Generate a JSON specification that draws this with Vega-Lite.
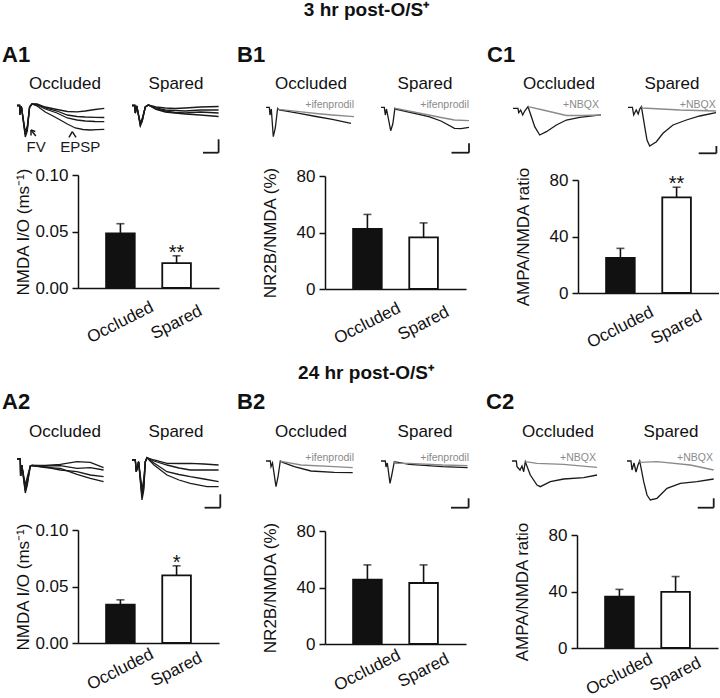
{
"$schema":"https://vega.github.io/schema/vega-lite/v6.json",
"padding":{"left":2,"top":1,"right":0,"bottom":0},
"config":{
 "font":"Liberation Sans",
 "view":{"stroke":null},
 "axis":{"domainColor":"#111","domainWidth":1.5,"tickColor":"#111","tickWidth":1.5,"labelColor":"#111","titleColor":"#111","labelFontSize":17,"titleFontSize":17,"titleFontWeight":"normal","grid":false,"labelFont":"Liberation Sans","titleFont":"Liberation Sans"},
 "axisY":{"tickSize":6,"labelPadding":4,"minExtent":41,"maxExtent":41,"titlePadding":5},
 "axisX":{"ticks":false,"labelAngle":-27,"labelAlign":"center","labelBaseline":"middle","labelPadding":34,"labelOverlap":false},
 "title":{"font":"Liberation Sans","color":"#111","baseline":"top"}
},
"datasets":{
"bars":[
{"panel":"A1","group":"Occluded","value":0.0484,"upper":0.0569,"sig":""},
{"panel":"A1","group":"Spared","value":0.0221,"upper":0.0285,"sig":"**"},
{"panel":"B1","group":"Occluded","value":42.5,"upper":52.8,"sig":""},
{"panel":"B1","group":"Spared","value":36.5,"upper":46.8,"sig":""},
{"panel":"C1","group":"Occluded","value":24.9,"upper":31.6,"sig":""},
{"panel":"C1","group":"Spared","value":67.7,"upper":74.9,"sig":"**"},
{"panel":"A2","group":"Occluded","value":0.034,"upper":0.0382,"sig":""},
{"panel":"A2","group":"Spared","value":0.0598,"upper":0.0683,"sig":"*"},
{"panel":"B2","group":"Occluded","value":45.6,"upper":56.0,"sig":""},
{"panel":"B2","group":"Spared","value":43.2,"upper":56.0,"sig":""},
{"panel":"C2","group":"Occluded","value":36.4,"upper":41.5,"sig":""},
{"panel":"C2","group":"Spared","value":39.7,"upper":50.6,"sig":""}
],
"segs":[
{"p":"A1s","t":71,"v":-53.7,"t2":86.6,"v2":-53.7},{"p":"A1s","t":86.6,"v":-40.3,"t2":86.6,"v2":-53.7},
{"p":"B1s","t":70.5,"v":-53.7,"t2":88,"v2":-53.7},{"p":"B1s","t":88,"v":-44.3,"t2":88,"v2":-53.7},
{"p":"C1s","t":70.7,"v":-54.3,"t2":88.4,"v2":-54.3},{"p":"C1s","t":88.4,"v":-47,"t2":88.4,"v2":-54.3},
{"p":"A2s","t":72.6,"v":-54.7,"t2":88.3,"v2":-54.7},{"p":"A2s","t":88.3,"v":-41.3,"t2":88.3,"v2":-54.7},
{"p":"B2s","t":70,"v":-54.7,"t2":87.6,"v2":-54.7},{"p":"B2s","t":87.6,"v":-45.3,"t2":87.6,"v2":-54.7},
{"p":"C2s","t":70.7,"v":-54.7,"t2":86.7,"v2":-54.7},{"p":"C2s","t":86.7,"v":-45.3,"t2":86.7,"v2":-54.7},
{"p":"A1o","t":14,"v":-31,"t2":14,"v2":-36.5},{"p":"A1o","t":14,"v":-31,"t2":18.3,"v2":-32.5},{"p":"A1o","t":14,"v":-31,"t2":18.8,"v2":-37},
{"p":"A1o","t":55.3,"v":-32.7,"t2":52,"v2":-38.3},{"p":"A1o","t":55.3,"v":-32.7,"t2":59,"v2":-38.3}
],
"notes":[
{"p":"A1o","k":"label","t":19.1,"v":-52.7,"text":"FV"},
{"p":"A1o","k":"label","t":63.3,"v":-52.7,"text":"EPSP"},
{"p":"B1o","k":"drug","t":88,"v":-9.3,"text":"+ifenprodil"},
{"p":"B1s","k":"drug","t":88,"v":-9,"text":"+ifenprodil"},
{"p":"C1o","k":"drug","t":86,"v":-9.3,"text":"+NBQX"},
{"p":"C1s","k":"drug","t":87.7,"v":-9.3,"text":"+NBQX"},
{"p":"B2o","k":"drug","t":88,"v":-8,"text":"+ifenprodil"},
{"p":"B2s","k":"drug","t":88,"v":-8,"text":"+ifenprodil"},
{"p":"C2o","k":"drug","t":84,"v":-8,"text":"+NBQX"},
{"p":"C2s","k":"drug","t":86,"v":-8,"text":"+NBQX"}
],
"traces":[
{"p":"A1o","id":"a","k":"c","t":0,"v":-6.5},{"p":"A1o","id":"a","k":"c","t":2.6,"v":-6.5},{"p":"A1o","id":"a","k":"c","t":2.8,"v":-16},{"p":"A1o","id":"a","k":"c","t":4.3,"v":-7},{"p":"A1o","id":"a","k":"c","t":8.3,"v":-33},{"p":"A1o","id":"a","k":"c","t":10.3,"v":-27},{"p":"A1o","id":"a","k":"c","t":12.6,"v":-8},{"p":"A1o","id":"a","k":"c","t":15,"v":-5},{"p":"A1o","id":"a","k":"c","t":20,"v":-5},{"p":"A1o","id":"a","k":"c","t":28.3,"v":-8},{"p":"A1o","id":"a","k":"c","t":40,"v":-10.5},{"p":"A1o","id":"a","k":"c","t":50.3,"v":-12.5},{"p":"A1o","id":"a","k":"c","t":60,"v":-12.8},{"p":"A1o","id":"a","k":"c","t":68.3,"v":-12},{"p":"A1o","id":"a","k":"c","t":78,"v":-10.5},{"p":"A1o","id":"a","k":"c","t":87.3,"v":-9.3},
{"p":"A1o","id":"b","k":"c","t":0,"v":-6.5},{"p":"A1o","id":"b","k":"c","t":2.6,"v":-6.5},{"p":"A1o","id":"b","k":"c","t":2.8,"v":-15},{"p":"A1o","id":"b","k":"c","t":4.3,"v":-7},{"p":"A1o","id":"b","k":"c","t":8.3,"v":-35},{"p":"A1o","id":"b","k":"c","t":10.3,"v":-29},{"p":"A1o","id":"b","k":"c","t":12.6,"v":-8},{"p":"A1o","id":"b","k":"c","t":15,"v":-5},{"p":"A1o","id":"b","k":"c","t":20,"v":-5.5},{"p":"A1o","id":"b","k":"c","t":28.3,"v":-9},{"p":"A1o","id":"b","k":"c","t":40,"v":-12},{"p":"A1o","id":"b","k":"c","t":50.3,"v":-16},{"p":"A1o","id":"b","k":"c","t":60,"v":-17.5},{"p":"A1o","id":"b","k":"c","t":68.3,"v":-18},{"p":"A1o","id":"b","k":"c","t":78,"v":-18.3},{"p":"A1o","id":"b","k":"c","t":87.3,"v":-18.5},
{"p":"A1o","id":"c","k":"c","t":0,"v":-6.5},{"p":"A1o","id":"c","k":"c","t":2.6,"v":-6.5},{"p":"A1o","id":"c","k":"c","t":2.8,"v":-16},{"p":"A1o","id":"c","k":"c","t":4.3,"v":-7},{"p":"A1o","id":"c","k":"c","t":8.3,"v":-36},{"p":"A1o","id":"c","k":"c","t":10.3,"v":-30},{"p":"A1o","id":"c","k":"c","t":12.6,"v":-8},{"p":"A1o","id":"c","k":"c","t":15,"v":-5},{"p":"A1o","id":"c","k":"c","t":20,"v":-6},{"p":"A1o","id":"c","k":"c","t":28.3,"v":-10},{"p":"A1o","id":"c","k":"c","t":40,"v":-14},{"p":"A1o","id":"c","k":"c","t":50.3,"v":-19},{"p":"A1o","id":"c","k":"c","t":60,"v":-21},{"p":"A1o","id":"c","k":"c","t":68.3,"v":-22},{"p":"A1o","id":"c","k":"c","t":78,"v":-22.5},{"p":"A1o","id":"c","k":"c","t":87.3,"v":-22.7},
{"p":"A1o","id":"d","k":"c","t":0,"v":-6.5},{"p":"A1o","id":"d","k":"c","t":2.6,"v":-6.5},{"p":"A1o","id":"d","k":"c","t":2.8,"v":-15},{"p":"A1o","id":"d","k":"c","t":4.3,"v":-7},{"p":"A1o","id":"d","k":"c","t":8.3,"v":-38},{"p":"A1o","id":"d","k":"c","t":10.3,"v":-32},{"p":"A1o","id":"d","k":"c","t":12.6,"v":-8},{"p":"A1o","id":"d","k":"c","t":15,"v":-5},{"p":"A1o","id":"d","k":"c","t":20,"v":-7},{"p":"A1o","id":"d","k":"c","t":28.3,"v":-13},{"p":"A1o","id":"d","k":"c","t":36,"v":-17},{"p":"A1o","id":"d","k":"c","t":43.3,"v":-21},{"p":"A1o","id":"d","k":"c","t":50.3,"v":-25},{"p":"A1o","id":"d","k":"c","t":58.3,"v":-29},{"p":"A1o","id":"d","k":"c","t":66,"v":-30.5},{"p":"A1o","id":"d","k":"c","t":73.3,"v":-31},{"p":"A1o","id":"d","k":"c","t":80,"v":-30.6},{"p":"A1o","id":"d","k":"c","t":87.3,"v":-30.3},
{"p":"A1s","id":"a","k":"c","t":0,"v":-6.5},{"p":"A1s","id":"a","k":"c","t":2.8,"v":-6.5},{"p":"A1s","id":"a","k":"c","t":3.3,"v":-14},{"p":"A1s","id":"a","k":"c","t":4.8,"v":-7},{"p":"A1s","id":"a","k":"c","t":8.3,"v":-24},{"p":"A1s","id":"a","k":"c","t":10.3,"v":-19},{"p":"A1s","id":"a","k":"c","t":13.3,"v":-8},{"p":"A1s","id":"a","k":"c","t":16.3,"v":-6},{"p":"A1s","id":"a","k":"c","t":24,"v":-8},{"p":"A1s","id":"a","k":"c","t":33.3,"v":-9},{"p":"A1s","id":"a","k":"c","t":43,"v":-9.5},{"p":"A1s","id":"a","k":"c","t":53.3,"v":-9},{"p":"A1s","id":"a","k":"c","t":68.3,"v":-8},{"p":"A1s","id":"a","k":"c","t":86.6,"v":-7.5},
{"p":"A1s","id":"b","k":"c","t":0,"v":-6.5},{"p":"A1s","id":"b","k":"c","t":2.8,"v":-6.5},{"p":"A1s","id":"b","k":"c","t":3.3,"v":-14},{"p":"A1s","id":"b","k":"c","t":4.8,"v":-7},{"p":"A1s","id":"b","k":"c","t":8.3,"v":-25.5},{"p":"A1s","id":"b","k":"c","t":10.3,"v":-20.5},{"p":"A1s","id":"b","k":"c","t":13.3,"v":-8},{"p":"A1s","id":"b","k":"c","t":16.3,"v":-6},{"p":"A1s","id":"b","k":"c","t":24,"v":-9},{"p":"A1s","id":"b","k":"c","t":33.3,"v":-11},{"p":"A1s","id":"b","k":"c","t":43,"v":-11.5},{"p":"A1s","id":"b","k":"c","t":53.3,"v":-12},{"p":"A1s","id":"b","k":"c","t":68.3,"v":-11},{"p":"A1s","id":"b","k":"c","t":86.6,"v":-11},
{"p":"A1s","id":"c","k":"c","t":0,"v":-6.5},{"p":"A1s","id":"c","k":"c","t":2.8,"v":-6.5},{"p":"A1s","id":"c","k":"c","t":3.3,"v":-14},{"p":"A1s","id":"c","k":"c","t":4.8,"v":-7},{"p":"A1s","id":"c","k":"c","t":8.3,"v":-26.5},{"p":"A1s","id":"c","k":"c","t":10.3,"v":-21.5},{"p":"A1s","id":"c","k":"c","t":13.3,"v":-8},{"p":"A1s","id":"c","k":"c","t":16.3,"v":-6},{"p":"A1s","id":"c","k":"c","t":24,"v":-10},{"p":"A1s","id":"c","k":"c","t":33.3,"v":-12},{"p":"A1s","id":"c","k":"c","t":43,"v":-13.5},{"p":"A1s","id":"c","k":"c","t":53.3,"v":-14},{"p":"A1s","id":"c","k":"c","t":68.3,"v":-13},{"p":"A1s","id":"c","k":"c","t":86.6,"v":-14},
{"p":"A1s","id":"d","k":"c","t":0,"v":-6.5},{"p":"A1s","id":"d","k":"c","t":2.8,"v":-6.5},{"p":"A1s","id":"d","k":"c","t":3.3,"v":-14},{"p":"A1s","id":"d","k":"c","t":4.8,"v":-7},{"p":"A1s","id":"d","k":"c","t":8.3,"v":-27},{"p":"A1s","id":"d","k":"c","t":10.3,"v":-22},{"p":"A1s","id":"d","k":"c","t":13.3,"v":-8},{"p":"A1s","id":"d","k":"c","t":16.3,"v":-6},{"p":"A1s","id":"d","k":"c","t":24,"v":-10.5},{"p":"A1s","id":"d","k":"c","t":33.3,"v":-13},{"p":"A1s","id":"d","k":"c","t":43,"v":-14},{"p":"A1s","id":"d","k":"c","t":53.3,"v":-15},{"p":"A1s","id":"d","k":"c","t":68.3,"v":-16},{"p":"A1s","id":"d","k":"c","t":86.6,"v":-17.5},
{"p":"B1o","id":"a","k":"c","t":0,"v":-8.3},{"p":"B1o","id":"a","k":"c","t":3.3,"v":-8.3},{"p":"B1o","id":"a","k":"c","t":4,"v":-16},{"p":"B1o","id":"a","k":"c","t":5.3,"v":-10},{"p":"B1o","id":"a","k":"c","t":7.3,"v":-37.7},{"p":"B1o","id":"a","k":"c","t":9.3,"v":-29},{"p":"B1o","id":"a","k":"c","t":11.6,"v":-9.3},{"p":"B1o","id":"a","k":"c","t":13.3,"v":-11},{"p":"B1o","id":"a","k":"c","t":33.3,"v":-14.3},{"p":"B1o","id":"a","k":"c","t":50,"v":-17.5},{"p":"B1o","id":"a","k":"c","t":66.3,"v":-20.3},{"p":"B1o","id":"a","k":"c","t":85,"v":-24.3},
{"p":"B1o","id":"g","k":"d","t":11.6,"v":-9.3},{"p":"B1o","id":"g","k":"d","t":13.3,"v":-10.3},{"p":"B1o","id":"g","k":"d","t":33.3,"v":-12.7},{"p":"B1o","id":"g","k":"d","t":50,"v":-14.5},{"p":"B1o","id":"g","k":"d","t":66.3,"v":-16},{"p":"B1o","id":"g","k":"d","t":88,"v":-17.7},
{"p":"B1s","id":"a","k":"c","t":0,"v":-8.3},{"p":"B1s","id":"a","k":"c","t":3.3,"v":-8.3},{"p":"B1s","id":"a","k":"c","t":4.3,"v":-16},{"p":"B1s","id":"a","k":"c","t":5.5,"v":-10},{"p":"B1s","id":"a","k":"c","t":9.7,"v":-31.7},{"p":"B1s","id":"a","k":"c","t":11.8,"v":-25},{"p":"B1s","id":"a","k":"c","t":13.9,"v":-9.3},{"p":"B1s","id":"a","k":"c","t":15.5,"v":-10.3},{"p":"B1s","id":"a","k":"c","t":30,"v":-13.5},{"p":"B1s","id":"a","k":"c","t":47.8,"v":-17.7},{"p":"B1s","id":"a","k":"c","t":60,"v":-22},{"p":"B1s","id":"a","k":"c","t":73.5,"v":-29.3},{"p":"B1s","id":"a","k":"c","t":80,"v":-29.7},{"p":"B1s","id":"a","k":"c","t":88,"v":-28.3},
{"p":"B1s","id":"g","k":"d","t":13.9,"v":-9.3},{"p":"B1s","id":"g","k":"d","t":15.2,"v":-9.3},{"p":"B1s","id":"g","k":"d","t":30,"v":-12.5},{"p":"B1s","id":"g","k":"d","t":47.8,"v":-16},{"p":"B1s","id":"g","k":"d","t":60,"v":-18.5},{"p":"B1s","id":"g","k":"d","t":73.5,"v":-21},{"p":"B1s","id":"g","k":"d","t":88,"v":-21.7},
{"p":"C1o","id":"a","k":"c","t":0,"v":-9.3},{"p":"C1o","id":"a","k":"c","t":5,"v":-9.3},{"p":"C1o","id":"a","k":"c","t":5.7,"v":-13.7},{"p":"C1o","id":"a","k":"c","t":7.7,"v":-11},{"p":"C1o","id":"a","k":"c","t":9.7,"v":-16},{"p":"C1o","id":"a","k":"c","t":11.7,"v":-12},{"p":"C1o","id":"a","k":"c","t":15,"v":-7.7},{"p":"C1o","id":"a","k":"c","t":18.4,"v":-17.7},{"p":"C1o","id":"a","k":"c","t":21.7,"v":-27.7},{"p":"C1o","id":"a","k":"c","t":26.7,"v":-36},{"p":"C1o","id":"a","k":"c","t":33.4,"v":-32.7},{"p":"C1o","id":"a","k":"c","t":43.4,"v":-26},{"p":"C1o","id":"a","k":"c","t":53.4,"v":-21},{"p":"C1o","id":"a","k":"c","t":66.7,"v":-18.3},{"p":"C1o","id":"a","k":"c","t":88,"v":-15.8},
{"p":"C1o","id":"g","k":"d","t":15,"v":-7.7},{"p":"C1o","id":"g","k":"d","t":30,"v":-11},{"p":"C1o","id":"g","k":"d","t":53.4,"v":-16.5},{"p":"C1o","id":"g","k":"d","t":70,"v":-16.5},{"p":"C1o","id":"g","k":"d","t":88,"v":-16},
{"p":"C1s","id":"a","k":"c","t":0,"v":-8.3},{"p":"C1s","id":"a","k":"c","t":4.4,"v":-8.3},{"p":"C1s","id":"a","k":"c","t":5.7,"v":-16},{"p":"C1s","id":"a","k":"c","t":8.2,"v":-11},{"p":"C1s","id":"a","k":"c","t":10.2,"v":-15},{"p":"C1s","id":"a","k":"c","t":11.7,"v":-10},{"p":"C1s","id":"a","k":"c","t":13.4,"v":-7.7},{"p":"C1s","id":"a","k":"c","t":16.7,"v":-27.7},{"p":"C1s","id":"a","k":"c","t":19,"v":-41},{"p":"C1s","id":"a","k":"c","t":21.7,"v":-47},{"p":"C1s","id":"a","k":"c","t":28.4,"v":-42.7},{"p":"C1s","id":"a","k":"c","t":35,"v":-34.3},{"p":"C1s","id":"a","k":"c","t":45,"v":-26},{"p":"C1s","id":"a","k":"c","t":58.4,"v":-21},{"p":"C1s","id":"a","k":"c","t":71.7,"v":-17},{"p":"C1s","id":"a","k":"c","t":88,"v":-13.7},
{"p":"C1s","id":"g","k":"d","t":13.4,"v":-7.7},{"p":"C1s","id":"g","k":"d","t":14.7,"v":-9},{"p":"C1s","id":"g","k":"d","t":51.7,"v":-11},{"p":"C1s","id":"g","k":"d","t":88,"v":-12},
{"p":"A2o","id":"a","k":"c","t":0,"v":-6},{"p":"A2o","id":"a","k":"c","t":3.3,"v":-6},{"p":"A2o","id":"a","k":"c","t":3.6,"v":-23},{"p":"A2o","id":"a","k":"c","t":4.8,"v":-12},{"p":"A2o","id":"a","k":"c","t":8.3,"v":-40},{"p":"A2o","id":"a","k":"c","t":10.3,"v":-32},{"p":"A2o","id":"a","k":"c","t":13.3,"v":-13},{"p":"A2o","id":"a","k":"c","t":15,"v":-12.5},{"p":"A2o","id":"a","k":"c","t":28.3,"v":-12.5},{"p":"A2o","id":"a","k":"c","t":43.3,"v":-11.3},{"p":"A2o","id":"a","k":"c","t":60,"v":-8.7},{"p":"A2o","id":"a","k":"c","t":73.3,"v":-9.3},{"p":"A2o","id":"a","k":"c","t":86.6,"v":-14.7},
{"p":"A2o","id":"b","k":"c","t":0,"v":-6},{"p":"A2o","id":"b","k":"c","t":3.3,"v":-6},{"p":"A2o","id":"b","k":"c","t":3.6,"v":-23},{"p":"A2o","id":"b","k":"c","t":4.8,"v":-12},{"p":"A2o","id":"b","k":"c","t":8.3,"v":-38},{"p":"A2o","id":"b","k":"c","t":10.3,"v":-30},{"p":"A2o","id":"b","k":"c","t":13.3,"v":-13},{"p":"A2o","id":"b","k":"c","t":15,"v":-12.5},{"p":"A2o","id":"b","k":"c","t":28.3,"v":-13},{"p":"A2o","id":"b","k":"c","t":43.3,"v":-12.7},{"p":"A2o","id":"b","k":"c","t":60,"v":-15.3},{"p":"A2o","id":"b","k":"c","t":73.3,"v":-14.7},{"p":"A2o","id":"b","k":"c","t":86.6,"v":-17},
{"p":"A2o","id":"c","k":"c","t":0,"v":-6},{"p":"A2o","id":"c","k":"c","t":3.3,"v":-6},{"p":"A2o","id":"c","k":"c","t":3.6,"v":-23},{"p":"A2o","id":"c","k":"c","t":4.8,"v":-12},{"p":"A2o","id":"c","k":"c","t":8.3,"v":-35},{"p":"A2o","id":"c","k":"c","t":10.3,"v":-27},{"p":"A2o","id":"c","k":"c","t":13.3,"v":-13},{"p":"A2o","id":"c","k":"c","t":15,"v":-12.5},{"p":"A2o","id":"c","k":"c","t":28.3,"v":-14},{"p":"A2o","id":"c","k":"c","t":43.3,"v":-17},{"p":"A2o","id":"c","k":"c","t":60,"v":-18.7},{"p":"A2o","id":"c","k":"c","t":73.3,"v":-22},{"p":"A2o","id":"c","k":"c","t":86.6,"v":-23.7},
{"p":"A2o","id":"d","k":"c","t":0,"v":-6},{"p":"A2o","id":"d","k":"c","t":3.3,"v":-6},{"p":"A2o","id":"d","k":"c","t":3.6,"v":-23},{"p":"A2o","id":"d","k":"c","t":4.8,"v":-12},{"p":"A2o","id":"d","k":"c","t":8.3,"v":-32},{"p":"A2o","id":"d","k":"c","t":10.3,"v":-24},{"p":"A2o","id":"d","k":"c","t":13.3,"v":-13},{"p":"A2o","id":"d","k":"c","t":15,"v":-12.5},{"p":"A2o","id":"d","k":"c","t":28.3,"v":-14.5},{"p":"A2o","id":"d","k":"c","t":43.3,"v":-15.3},{"p":"A2o","id":"d","k":"c","t":60,"v":-21.3},{"p":"A2o","id":"d","k":"c","t":73.3,"v":-25.3},{"p":"A2o","id":"d","k":"c","t":86.6,"v":-28.7},
{"p":"A2s","id":"a","k":"c","t":0,"v":-7},{"p":"A2s","id":"a","k":"c","t":3.3,"v":-7},{"p":"A2s","id":"a","k":"c","t":4.3,"v":-18.7},{"p":"A2s","id":"a","k":"c","t":6.6,"v":-8.7},{"p":"A2s","id":"a","k":"c","t":10,"v":-47},{"p":"A2s","id":"a","k":"c","t":11.8,"v":-37},{"p":"A2s","id":"a","k":"c","t":13.3,"v":-8.7},{"p":"A2s","id":"a","k":"c","t":15,"v":-4.7},{"p":"A2s","id":"a","k":"c","t":22,"v":-7},{"p":"A2s","id":"a","k":"c","t":35,"v":-10.3},{"p":"A2s","id":"a","k":"c","t":47,"v":-10.5},{"p":"A2s","id":"a","k":"c","t":58.3,"v":-10.3},{"p":"A2s","id":"a","k":"c","t":72,"v":-11},{"p":"A2s","id":"a","k":"c","t":86.6,"v":-12},
{"p":"A2s","id":"b","k":"c","t":0,"v":-7},{"p":"A2s","id":"b","k":"c","t":3.3,"v":-7},{"p":"A2s","id":"b","k":"c","t":4.3,"v":-18.7},{"p":"A2s","id":"b","k":"c","t":6.6,"v":-8.7},{"p":"A2s","id":"b","k":"c","t":10,"v":-44},{"p":"A2s","id":"b","k":"c","t":11.8,"v":-34},{"p":"A2s","id":"b","k":"c","t":13.3,"v":-8.7},{"p":"A2s","id":"b","k":"c","t":15,"v":-4.7},{"p":"A2s","id":"b","k":"c","t":22,"v":-8},{"p":"A2s","id":"b","k":"c","t":35,"v":-12},{"p":"A2s","id":"b","k":"c","t":47,"v":-15},{"p":"A2s","id":"b","k":"c","t":58.3,"v":-17},{"p":"A2s","id":"b","k":"c","t":72,"v":-17},{"p":"A2s","id":"b","k":"c","t":86.6,"v":-17},
{"p":"A2s","id":"c","k":"c","t":0,"v":-7},{"p":"A2s","id":"c","k":"c","t":3.3,"v":-7},{"p":"A2s","id":"c","k":"c","t":4.3,"v":-18.7},{"p":"A2s","id":"c","k":"c","t":6.6,"v":-8.7},{"p":"A2s","id":"c","k":"c","t":10,"v":-40},{"p":"A2s","id":"c","k":"c","t":11.8,"v":-30},{"p":"A2s","id":"c","k":"c","t":13.3,"v":-8.7},{"p":"A2s","id":"c","k":"c","t":15,"v":-4.7},{"p":"A2s","id":"c","k":"c","t":22,"v":-10},{"p":"A2s","id":"c","k":"c","t":35,"v":-18.7},{"p":"A2s","id":"c","k":"c","t":47,"v":-21.5},{"p":"A2s","id":"c","k":"c","t":58.3,"v":-23.7},{"p":"A2s","id":"c","k":"c","t":72,"v":-26},{"p":"A2s","id":"c","k":"c","t":86.6,"v":-28.7},
{"p":"A2s","id":"d","k":"c","t":0,"v":-7},{"p":"A2s","id":"d","k":"c","t":3.3,"v":-7},{"p":"A2s","id":"d","k":"c","t":4.3,"v":-18.7},{"p":"A2s","id":"d","k":"c","t":6.6,"v":-8.7},{"p":"A2s","id":"d","k":"c","t":10,"v":-36},{"p":"A2s","id":"d","k":"c","t":11.8,"v":-26},{"p":"A2s","id":"d","k":"c","t":13.3,"v":-8.7},{"p":"A2s","id":"d","k":"c","t":15,"v":-4.7},{"p":"A2s","id":"d","k":"c","t":22,"v":-12},{"p":"A2s","id":"d","k":"c","t":35,"v":-22},{"p":"A2s","id":"d","k":"c","t":47,"v":-27},{"p":"A2s","id":"d","k":"c","t":58.3,"v":-30.3},{"p":"A2s","id":"d","k":"c","t":75,"v":-33.7},{"p":"A2s","id":"d","k":"c","t":86.6,"v":-33.7},
{"p":"B2o","id":"a","k":"c","t":0,"v":-8},{"p":"B2o","id":"a","k":"c","t":4.3,"v":-8},{"p":"B2o","id":"a","k":"c","t":5,"v":-13.7},{"p":"B2o","id":"a","k":"c","t":6.5,"v":-10},{"p":"B2o","id":"a","k":"c","t":10,"v":-33.7},{"p":"B2o","id":"a","k":"c","t":12,"v":-24},{"p":"B2o","id":"a","k":"c","t":14.3,"v":-8},{"p":"B2o","id":"a","k":"c","t":16.7,"v":-9.3},{"p":"B2o","id":"a","k":"c","t":28.3,"v":-13.7},{"p":"B2o","id":"a","k":"c","t":45,"v":-18},{"p":"B2o","id":"a","k":"c","t":68.3,"v":-19.3},{"p":"B2o","id":"a","k":"c","t":86.7,"v":-19.7},
{"p":"B2o","id":"g","k":"d","t":14.3,"v":-8},{"p":"B2o","id":"g","k":"d","t":16.7,"v":-8.7},{"p":"B2o","id":"g","k":"d","t":35,"v":-12},{"p":"B2o","id":"g","k":"d","t":68.3,"v":-13.7},{"p":"B2o","id":"g","k":"d","t":86.7,"v":-14.7},
{"p":"B2s","id":"a","k":"c","t":0,"v":-8},{"p":"B2s","id":"a","k":"c","t":4.3,"v":-8},{"p":"B2s","id":"a","k":"c","t":5,"v":-14},{"p":"B2s","id":"a","k":"c","t":6.3,"v":-10},{"p":"B2s","id":"a","k":"c","t":9,"v":-30.3},{"p":"B2s","id":"a","k":"c","t":10.8,"v":-22},{"p":"B2s","id":"a","k":"c","t":13.3,"v":-8.7},{"p":"B2s","id":"a","k":"c","t":28.3,"v":-11.3},{"p":"B2s","id":"a","k":"c","t":61.6,"v":-13.7},{"p":"B2s","id":"a","k":"c","t":86.6,"v":-14.7},
{"p":"B2s","id":"g","k":"d","t":13.3,"v":-8.7},{"p":"B2s","id":"g","k":"d","t":14.5,"v":-10.3},{"p":"B2s","id":"g","k":"d","t":28.3,"v":-10.3},{"p":"B2s","id":"g","k":"d","t":61.6,"v":-12},{"p":"B2s","id":"g","k":"d","t":86.6,"v":-12.7},
{"p":"C2o","id":"a","k":"c","t":0,"v":-8},{"p":"C2o","id":"a","k":"c","t":4.3,"v":-8},{"p":"C2o","id":"a","k":"c","t":5,"v":-13.7},{"p":"C2o","id":"a","k":"c","t":8,"v":-17},{"p":"C2o","id":"a","k":"c","t":10,"v":-13},{"p":"C2o","id":"a","k":"c","t":11.7,"v":-18.7},{"p":"C2o","id":"a","k":"c","t":13.3,"v":-8.7},{"p":"C2o","id":"a","k":"c","t":18.3,"v":-22},{"p":"C2o","id":"a","k":"c","t":25,"v":-32},{"p":"C2o","id":"a","k":"c","t":28.3,"v":-33.7},{"p":"C2o","id":"a","k":"c","t":38.3,"v":-28.7},{"p":"C2o","id":"a","k":"c","t":51.7,"v":-26},{"p":"C2o","id":"a","k":"c","t":71.7,"v":-24.7},{"p":"C2o","id":"a","k":"c","t":85,"v":-22},
{"p":"C2o","id":"g","k":"d","t":13.3,"v":-8.7},{"p":"C2o","id":"g","k":"d","t":25,"v":-10.3},{"p":"C2o","id":"g","k":"d","t":51.7,"v":-11.3},{"p":"C2o","id":"g","k":"d","t":85,"v":-14.3},
{"p":"C2s","id":"a","k":"c","t":0,"v":-8},{"p":"C2s","id":"a","k":"c","t":4,"v":-8},{"p":"C2s","id":"a","k":"c","t":5,"v":-17},{"p":"C2s","id":"a","k":"c","t":7,"v":-10},{"p":"C2s","id":"a","k":"c","t":9,"v":-19},{"p":"C2s","id":"a","k":"c","t":11,"v":-12},{"p":"C2s","id":"a","k":"c","t":12.7,"v":-8},{"p":"C2s","id":"a","k":"c","t":16.7,"v":-28.7},{"p":"C2s","id":"a","k":"c","t":20,"v":-42},{"p":"C2s","id":"a","k":"c","t":23.3,"v":-47},{"p":"C2s","id":"a","k":"c","t":30,"v":-45.3},{"p":"C2s","id":"a","k":"c","t":40,"v":-35.3},{"p":"C2s","id":"a","k":"c","t":53.3,"v":-30.3},{"p":"C2s","id":"a","k":"c","t":70,"v":-28.7},{"p":"C2s","id":"a","k":"c","t":86.7,"v":-26},
{"p":"C2s","id":"g","k":"d","t":12.7,"v":-8},{"p":"C2s","id":"g","k":"d","t":13.3,"v":-9.3},{"p":"C2s","id":"g","k":"d","t":30,"v":-8.7},{"p":"C2s","id":"g","k":"d","t":63.3,"v":-12},{"p":"C2s","id":"g","k":"d","t":86.7,"v":-17}
]
},
"vconcat":[
{"title":{"text":"3 hr post-O/S⁺","fontSize":19,"fontWeight":"bold","anchor":"middle","frame":"bounds","offset":24,"dx":6},
 "spacing":15,
 "hconcat":[
  {"title":{"text":"A1","fontSize":22,"fontWeight":"bold","anchor":"start","frame":"group","offset":8,"dx":-15},
   "spacing":11,
   "vconcat":[
    {"bounds":"flush","spacing":27,"hconcat":[
      {"title":{"text":"Occluded","fontSize":17,"fontWeight":"normal","offset":6,"dx":4},"width":88,"height":56,
       "encoding":{"x":{"field":"t","type":"quantitative","scale":{"domain":[0,88]},"axis":null},"y":{"field":"v","type":"quantitative","scale":{"domain":[-56,0]},"axis":null}},
       "layer":[
        {"data":{"name":"traces"},"transform":[{"filter":"datum.p=='A1o'"}],"mark":{"type":"line","strokeWidth":1.3},"encoding":{"detail":{"field":"id"},"color":{"field":"k","type":"nominal","scale":{"domain":["c","d"],"range":["#1a1a1a","#8a8a8a"]},"legend":null}}},
        {"data":{"name":"segs"},"transform":[{"filter":"datum.p=='A1o'"}],"mark":{"type":"rule","strokeWidth":1.5,"color":"#1a1a1a"},"encoding":{"x2":{"field":"t2"},"y2":{"field":"v2"}}},
        {"data":{"name":"notes"},"transform":[{"filter":"datum.p=='A1o' && datum.k=='label'"}],"mark":{"type":"text","fontSize":15,"align":"center","baseline":"alphabetic","color":"#1a1a1a"},"encoding":{"text":{"field":"text"}}}
       ]},
      {"title":{"text":"Spared","fontSize":17,"fontWeight":"normal","offset":6},"width":88,"height":56,
       "encoding":{"x":{"field":"t","type":"quantitative","scale":{"domain":[0,88]},"axis":null},"y":{"field":"v","type":"quantitative","scale":{"domain":[-56,0]},"axis":null}},
       "layer":[
        {"data":{"name":"traces"},"transform":[{"filter":"datum.p=='A1s'"}],"mark":{"type":"line","strokeWidth":1.3},"encoding":{"detail":{"field":"id"},"color":{"field":"k","type":"nominal","scale":{"domain":["c","d"],"range":["#1a1a1a","#8a8a8a"]},"legend":null}}},
        {"data":{"name":"segs"},"transform":[{"filter":"datum.p=='A1s'"}],"mark":{"type":"rule","strokeWidth":1.8,"color":"#1a1a1a"},"encoding":{"x2":{"field":"t2"},"y2":{"field":"v2"}}}
       ]}
    ]},
    {"bounds":"flush","spacing":60,"hconcat":[
     {"width":1,"height":1,"data":{"values":[{"z":0}]},"mark":{"type":"point","opacity":0}},
     {"width":141,"height":113,"data":{"name":"bars"},"transform":[{"filter":"datum.panel=='A1'"}],
       "encoding":{"x":{"field":"group","type":"nominal","sort":["Occluded","Spared"],"scale":{"paddingInner":0.49,"paddingOuter":0.5},"title":null},
                   "y":{"field":"value","type":"quantitative","scale":{"domain":[0,0.1],"nice":false},"axis":{"values":[0,0.05,0.1],"format":".2f"},"title":"NMDA I/O (ms⁻¹)"}},
       "layer":[
        {"mark":{"type":"bar","stroke":"#111","strokeWidth":1.8},"encoding":{"fill":{"field":"group","type":"nominal","scale":{"domain":["Occluded","Spared"],"range":["#111111","#ffffff"]},"legend":null}}},
        {"mark":{"type":"rule","color":"#111","strokeWidth":1.6},"encoding":{"y2":{"field":"upper"}}},
        {"mark":{"type":"tick","size":8,"thickness":1.6,"color":"#111"},"encoding":{"y":{"field":"upper","type":"quantitative","title":"NMDA I/O (ms⁻¹)"}}},
        {"mark":{"type":"text","fontSize":20,"baseline":"alphabetic","dy":3,"color":"#111"},"encoding":{"y":{"field":"upper","type":"quantitative","title":"NMDA I/O (ms⁻¹)"},"text":{"field":"sig"}}}
       ]}
    ]}
   ]},
  {"title":{"text":"B1","fontSize":22,"fontWeight":"bold","anchor":"start","frame":"group","offset":8,"dx":-29},
   "spacing":11,
   "vconcat":[
    {"bounds":"flush","spacing":27,"hconcat":[
      {"title":{"text":"Occluded","fontSize":17,"fontWeight":"normal","offset":6,"dx":1},"width":88,"height":56,
       "encoding":{"x":{"field":"t","type":"quantitative","scale":{"domain":[0,88]},"axis":null},"y":{"field":"v","type":"quantitative","scale":{"domain":[-56,0]},"axis":null}},
       "layer":[
        {"data":{"name":"traces"},"transform":[{"filter":"datum.p=='B1o'"}],"mark":{"type":"line","strokeWidth":1.3},"encoding":{"detail":{"field":"id"},"color":{"field":"k","type":"nominal","scale":{"domain":["c","d"],"range":["#1a1a1a","#8a8a8a"]},"legend":null}}},
        {"data":{"name":"notes"},"transform":[{"filter":"datum.p=='B1o'"}],"mark":{"type":"text","fontSize":10.5,"align":"right","baseline":"alphabetic","color":"#8a8a8a"},"encoding":{"text":{"field":"text"}}}
       ]},
      {"title":{"text":"Spared","fontSize":17,"fontWeight":"normal","offset":6},"width":88,"height":56,
       "encoding":{"x":{"field":"t","type":"quantitative","scale":{"domain":[0,88]},"axis":null},"y":{"field":"v","type":"quantitative","scale":{"domain":[-56,0]},"axis":null}},
       "layer":[
        {"data":{"name":"traces"},"transform":[{"filter":"datum.p=='B1s'"}],"mark":{"type":"line","strokeWidth":1.3},"encoding":{"detail":{"field":"id"},"color":{"field":"k","type":"nominal","scale":{"domain":["c","d"],"range":["#1a1a1a","#8a8a8a"]},"legend":null}}},
        {"data":{"name":"segs"},"transform":[{"filter":"datum.p=='B1s'"}],"mark":{"type":"rule","strokeWidth":1.8,"color":"#1a1a1a"},"encoding":{"x2":{"field":"t2"},"y2":{"field":"v2"}}},
        {"data":{"name":"notes"},"transform":[{"filter":"datum.p=='B1s'"}],"mark":{"type":"text","fontSize":10.5,"align":"right","baseline":"alphabetic","color":"#8a8a8a"},"encoding":{"text":{"field":"text"}}}
       ]}
    ]},
    {"bounds":"flush","spacing":58,"hconcat":[
     {"width":1,"height":1,"data":{"values":[{"z":0}]},"mark":{"type":"point","opacity":0}},
     {"width":141,"height":113,"data":{"name":"bars"},"transform":[{"filter":"datum.panel=='B1'"}],
       "encoding":{"x":{"field":"group","type":"nominal","sort":["Occluded","Spared"],"scale":{"paddingInner":0.49,"paddingOuter":0.5},"title":null},
                   "y":{"field":"value","type":"quantitative","scale":{"domain":[0,80],"nice":false},"axis":{"values":[0,40,80],"format":"d"},"title":"NR2B/NMDA (%)"}},
       "layer":[
        {"mark":{"type":"bar","stroke":"#111","strokeWidth":1.8},"encoding":{"fill":{"field":"group","type":"nominal","scale":{"domain":["Occluded","Spared"],"range":["#111111","#ffffff"]},"legend":null}}},
        {"mark":{"type":"rule","color":"#111","strokeWidth":1.6},"encoding":{"y2":{"field":"upper"}}},
        {"mark":{"type":"tick","size":8,"thickness":1.6,"color":"#111"},"encoding":{"y":{"field":"upper","type":"quantitative","title":"NR2B/NMDA (%)"}}},
        {"mark":{"type":"text","fontSize":20,"baseline":"alphabetic","dy":3,"color":"#111"},"encoding":{"y":{"field":"upper","type":"quantitative","title":"NR2B/NMDA (%)"},"text":{"field":"sig"}}}
       ]}
    ]}
   ]},
  {"title":{"text":"C1","fontSize":22,"fontWeight":"bold","anchor":"start","frame":"group","offset":8,"dx":-26},
   "spacing":11,
   "vconcat":[
    {"bounds":"flush","spacing":27,"hconcat":[
      {"title":{"text":"Occluded","fontSize":17,"fontWeight":"normal","offset":6,"dx":2},"width":88,"height":56,
       "encoding":{"x":{"field":"t","type":"quantitative","scale":{"domain":[0,88]},"axis":null},"y":{"field":"v","type":"quantitative","scale":{"domain":[-56,0]},"axis":null}},
       "layer":[
        {"data":{"name":"traces"},"transform":[{"filter":"datum.p=='C1o'"}],"mark":{"type":"line","strokeWidth":1.3},"encoding":{"detail":{"field":"id"},"color":{"field":"k","type":"nominal","scale":{"domain":["c","d"],"range":["#1a1a1a","#8a8a8a"]},"legend":null}}},
        {"data":{"name":"notes"},"transform":[{"filter":"datum.p=='C1o'"}],"mark":{"type":"text","fontSize":10.5,"align":"right","baseline":"alphabetic","color":"#8a8a8a"},"encoding":{"text":{"field":"text"}}}
       ]},
      {"title":{"text":"Spared","fontSize":17,"fontWeight":"normal","offset":6},"width":88,"height":56,
       "encoding":{"x":{"field":"t","type":"quantitative","scale":{"domain":[0,88]},"axis":null},"y":{"field":"v","type":"quantitative","scale":{"domain":[-56,0]},"axis":null}},
       "layer":[
        {"data":{"name":"traces"},"transform":[{"filter":"datum.p=='C1s'"}],"mark":{"type":"line","strokeWidth":1.3},"encoding":{"detail":{"field":"id"},"color":{"field":"k","type":"nominal","scale":{"domain":["c","d"],"range":["#1a1a1a","#8a8a8a"]},"legend":null}}},
        {"data":{"name":"segs"},"transform":[{"filter":"datum.p=='C1s'"}],"mark":{"type":"rule","strokeWidth":1.8,"color":"#1a1a1a"},"encoding":{"x2":{"field":"t2"},"y2":{"field":"v2"}}},
        {"data":{"name":"notes"},"transform":[{"filter":"datum.p=='C1s'"}],"mark":{"type":"text","fontSize":10.5,"align":"right","baseline":"alphabetic","color":"#8a8a8a"},"encoding":{"text":{"field":"text"}}}
       ]}
    ]},
    {"bounds":"flush","spacing":64,"hconcat":[
     {"width":1,"height":1,"data":{"values":[{"z":0}]},"mark":{"type":"point","opacity":0}},
     {"width":141,"height":113,"data":{"name":"bars"},"transform":[{"filter":"datum.panel=='C1'"}],
       "encoding":{"x":{"field":"group","type":"nominal","sort":["Occluded","Spared"],"scale":{"paddingInner":0.49,"paddingOuter":0.5},"title":null},
                   "y":{"field":"value","type":"quantitative","scale":{"domain":[0,80],"nice":false},"axis":{"values":[0,40,80],"format":"d"},"title":"AMPA/NMDA ratio"}},
       "layer":[
        {"mark":{"type":"bar","stroke":"#111","strokeWidth":1.8},"encoding":{"fill":{"field":"group","type":"nominal","scale":{"domain":["Occluded","Spared"],"range":["#111111","#ffffff"]},"legend":null}}},
        {"mark":{"type":"rule","color":"#111","strokeWidth":1.6},"encoding":{"y2":{"field":"upper"}}},
        {"mark":{"type":"tick","size":8,"thickness":1.6,"color":"#111"},"encoding":{"y":{"field":"upper","type":"quantitative","title":"AMPA/NMDA ratio"}}},
        {"mark":{"type":"text","fontSize":20,"baseline":"alphabetic","dy":3,"color":"#111"},"encoding":{"y":{"field":"upper","type":"quantitative","title":"AMPA/NMDA ratio"},"text":{"field":"sig"}}}
       ]}
    ]}
   ]}
 ]},
{"title":{"text":"24 hr post-O/S⁺","fontSize":19,"fontWeight":"bold","anchor":"middle","frame":"bounds","offset":8,"dx":6},
 "spacing":15,
 "hconcat":[
  {"title":{"text":"A2","fontSize":22,"fontWeight":"bold","anchor":"start","frame":"group","offset":9,"dx":-15},
   "spacing":12,
   "vconcat":[
    {"bounds":"flush","spacing":27,"hconcat":[
      {"title":{"text":"Occluded","fontSize":17,"fontWeight":"normal","offset":12,"dx":4},"width":88,"height":56,
       "encoding":{"x":{"field":"t","type":"quantitative","scale":{"domain":[0,88]},"axis":null},"y":{"field":"v","type":"quantitative","scale":{"domain":[-56,0]},"axis":null}},
       "layer":[
        {"data":{"name":"traces"},"transform":[{"filter":"datum.p=='A2o'"}],"mark":{"type":"line","strokeWidth":1.3},"encoding":{"detail":{"field":"id"},"color":{"field":"k","type":"nominal","scale":{"domain":["c","d"],"range":["#1a1a1a","#8a8a8a"]},"legend":null}}}
       ]},
      {"title":{"text":"Spared","fontSize":17,"fontWeight":"normal","offset":12},"width":88,"height":56,
       "encoding":{"x":{"field":"t","type":"quantitative","scale":{"domain":[0,88]},"axis":null},"y":{"field":"v","type":"quantitative","scale":{"domain":[-56,0]},"axis":null}},
       "layer":[
        {"data":{"name":"traces"},"transform":[{"filter":"datum.p=='A2s'"}],"mark":{"type":"line","strokeWidth":1.3},"encoding":{"detail":{"field":"id"},"color":{"field":"k","type":"nominal","scale":{"domain":["c","d"],"range":["#1a1a1a","#8a8a8a"]},"legend":null}}},
        {"data":{"name":"segs"},"transform":[{"filter":"datum.p=='A2s'"}],"mark":{"type":"rule","strokeWidth":1.8,"color":"#1a1a1a"},"encoding":{"x2":{"field":"t2"},"y2":{"field":"v2"}}}
       ]}
    ]},
    {"bounds":"flush","spacing":60,"hconcat":[
     {"width":1,"height":1,"data":{"values":[{"z":0}]},"mark":{"type":"point","opacity":0}},
     {"width":141,"height":113,"data":{"name":"bars"},"transform":[{"filter":"datum.panel=='A2'"}],
       "encoding":{"x":{"field":"group","type":"nominal","sort":["Occluded","Spared"],"scale":{"paddingInner":0.49,"paddingOuter":0.5},"axis":{"labelPadding":26},"title":null},
                   "y":{"field":"value","type":"quantitative","scale":{"domain":[0,0.1],"nice":false},"axis":{"values":[0,0.05,0.1],"format":".2f"},"title":"NMDA I/O (ms⁻¹)"}},
       "layer":[
        {"mark":{"type":"bar","stroke":"#111","strokeWidth":1.8},"encoding":{"fill":{"field":"group","type":"nominal","scale":{"domain":["Occluded","Spared"],"range":["#111111","#ffffff"]},"legend":null}}},
        {"mark":{"type":"rule","color":"#111","strokeWidth":1.6},"encoding":{"y2":{"field":"upper"}}},
        {"mark":{"type":"tick","size":8,"thickness":1.6,"color":"#111"},"encoding":{"y":{"field":"upper","type":"quantitative","title":"NMDA I/O (ms⁻¹)"}}},
        {"mark":{"type":"text","fontSize":20,"baseline":"alphabetic","dy":3,"color":"#111"},"encoding":{"y":{"field":"upper","type":"quantitative","title":"NMDA I/O (ms⁻¹)"},"text":{"field":"sig"}}}
       ]}
    ]}
   ]},
  {"title":{"text":"B2","fontSize":22,"fontWeight":"bold","anchor":"start","frame":"group","offset":9,"dx":-29},
   "spacing":12,
   "vconcat":[
    {"bounds":"flush","spacing":27,"hconcat":[
      {"title":{"text":"Occluded","fontSize":17,"fontWeight":"normal","offset":12,"dx":1},"width":88,"height":56,
       "encoding":{"x":{"field":"t","type":"quantitative","scale":{"domain":[0,88]},"axis":null},"y":{"field":"v","type":"quantitative","scale":{"domain":[-56,0]},"axis":null}},
       "layer":[
        {"data":{"name":"traces"},"transform":[{"filter":"datum.p=='B2o'"}],"mark":{"type":"line","strokeWidth":1.3},"encoding":{"detail":{"field":"id"},"color":{"field":"k","type":"nominal","scale":{"domain":["c","d"],"range":["#1a1a1a","#8a8a8a"]},"legend":null}}},
        {"data":{"name":"notes"},"transform":[{"filter":"datum.p=='B2o'"}],"mark":{"type":"text","fontSize":10.5,"align":"right","baseline":"alphabetic","color":"#8a8a8a"},"encoding":{"text":{"field":"text"}}}
       ]},
      {"title":{"text":"Spared","fontSize":17,"fontWeight":"normal","offset":12},"width":88,"height":56,
       "encoding":{"x":{"field":"t","type":"quantitative","scale":{"domain":[0,88]},"axis":null},"y":{"field":"v","type":"quantitative","scale":{"domain":[-56,0]},"axis":null}},
       "layer":[
        {"data":{"name":"traces"},"transform":[{"filter":"datum.p=='B2s'"}],"mark":{"type":"line","strokeWidth":1.3},"encoding":{"detail":{"field":"id"},"color":{"field":"k","type":"nominal","scale":{"domain":["c","d"],"range":["#1a1a1a","#8a8a8a"]},"legend":null}}},
        {"data":{"name":"segs"},"transform":[{"filter":"datum.p=='B2s'"}],"mark":{"type":"rule","strokeWidth":1.8,"color":"#1a1a1a"},"encoding":{"x2":{"field":"t2"},"y2":{"field":"v2"}}},
        {"data":{"name":"notes"},"transform":[{"filter":"datum.p=='B2s'"}],"mark":{"type":"text","fontSize":10.5,"align":"right","baseline":"alphabetic","color":"#8a8a8a"},"encoding":{"text":{"field":"text"}}}
       ]}
    ]},
    {"bounds":"flush","spacing":58,"hconcat":[
     {"width":1,"height":1,"data":{"values":[{"z":0}]},"mark":{"type":"point","opacity":0}},
     {"width":141,"height":113,"data":{"name":"bars"},"transform":[{"filter":"datum.panel=='B2'"}],
       "encoding":{"x":{"field":"group","type":"nominal","sort":["Occluded","Spared"],"scale":{"paddingInner":0.49,"paddingOuter":0.5},"axis":{"labelPadding":26},"title":null},
                   "y":{"field":"value","type":"quantitative","scale":{"domain":[0,80],"nice":false},"axis":{"values":[0,40,80],"format":"d"},"title":"NR2B/NMDA (%)"}},
       "layer":[
        {"mark":{"type":"bar","stroke":"#111","strokeWidth":1.8},"encoding":{"fill":{"field":"group","type":"nominal","scale":{"domain":["Occluded","Spared"],"range":["#111111","#ffffff"]},"legend":null}}},
        {"mark":{"type":"rule","color":"#111","strokeWidth":1.6},"encoding":{"y2":{"field":"upper"}}},
        {"mark":{"type":"tick","size":8,"thickness":1.6,"color":"#111"},"encoding":{"y":{"field":"upper","type":"quantitative","title":"NR2B/NMDA (%)"}}},
        {"mark":{"type":"text","fontSize":20,"baseline":"alphabetic","dy":3,"color":"#111"},"encoding":{"y":{"field":"upper","type":"quantitative","title":"NR2B/NMDA (%)"},"text":{"field":"sig"}}}
       ]}
    ]}
   ]},
  {"title":{"text":"C2","fontSize":22,"fontWeight":"bold","anchor":"start","frame":"group","offset":9,"dx":-26},
   "spacing":12,
   "vconcat":[
    {"bounds":"flush","spacing":27,"hconcat":[
      {"title":{"text":"Occluded","fontSize":17,"fontWeight":"normal","offset":12,"dx":2},"width":88,"height":56,
       "encoding":{"x":{"field":"t","type":"quantitative","scale":{"domain":[0,88]},"axis":null},"y":{"field":"v","type":"quantitative","scale":{"domain":[-56,0]},"axis":null}},
       "layer":[
        {"data":{"name":"traces"},"transform":[{"filter":"datum.p=='C2o'"}],"mark":{"type":"line","strokeWidth":1.3},"encoding":{"detail":{"field":"id"},"color":{"field":"k","type":"nominal","scale":{"domain":["c","d"],"range":["#1a1a1a","#8a8a8a"]},"legend":null}}},
        {"data":{"name":"notes"},"transform":[{"filter":"datum.p=='C2o'"}],"mark":{"type":"text","fontSize":10.5,"align":"right","baseline":"alphabetic","color":"#8a8a8a"},"encoding":{"text":{"field":"text"}}}
       ]},
      {"title":{"text":"Spared","fontSize":17,"fontWeight":"normal","offset":12},"width":88,"height":56,
       "encoding":{"x":{"field":"t","type":"quantitative","scale":{"domain":[0,88]},"axis":null},"y":{"field":"v","type":"quantitative","scale":{"domain":[-56,0]},"axis":null}},
       "layer":[
        {"data":{"name":"traces"},"transform":[{"filter":"datum.p=='C2s'"}],"mark":{"type":"line","strokeWidth":1.3},"encoding":{"detail":{"field":"id"},"color":{"field":"k","type":"nominal","scale":{"domain":["c","d"],"range":["#1a1a1a","#8a8a8a"]},"legend":null}}},
        {"data":{"name":"segs"},"transform":[{"filter":"datum.p=='C2s'"}],"mark":{"type":"rule","strokeWidth":1.8,"color":"#1a1a1a"},"encoding":{"x2":{"field":"t2"},"y2":{"field":"v2"}}},
        {"data":{"name":"notes"},"transform":[{"filter":"datum.p=='C2s'"}],"mark":{"type":"text","fontSize":10.5,"align":"right","baseline":"alphabetic","color":"#8a8a8a"},"encoding":{"text":{"field":"text"}}}
       ]}
    ]},
    {"bounds":"flush","spacing":64,"hconcat":[
     {"width":1,"height":1,"data":{"values":[{"z":0}]},"mark":{"type":"point","opacity":0}},
     {"width":141,"height":113,"data":{"name":"bars"},"transform":[{"filter":"datum.panel=='C2'"}],
       "encoding":{"x":{"field":"group","type":"nominal","sort":["Occluded","Spared"],"scale":{"paddingInner":0.49,"paddingOuter":0.5},"axis":{"labelPadding":26},"title":null},
                   "y":{"field":"value","type":"quantitative","scale":{"domain":[0,80],"nice":false},"axis":{"values":[0,40,80],"format":"d"},"title":"AMPA/NMDA ratio"}},
       "layer":[
        {"mark":{"type":"bar","stroke":"#111","strokeWidth":1.8},"encoding":{"fill":{"field":"group","type":"nominal","scale":{"domain":["Occluded","Spared"],"range":["#111111","#ffffff"]},"legend":null}}},
        {"mark":{"type":"rule","color":"#111","strokeWidth":1.6},"encoding":{"y2":{"field":"upper"}}},
        {"mark":{"type":"tick","size":8,"thickness":1.6,"color":"#111"},"encoding":{"y":{"field":"upper","type":"quantitative","title":"AMPA/NMDA ratio"}}},
        {"mark":{"type":"text","fontSize":20,"baseline":"alphabetic","dy":3,"color":"#111"},"encoding":{"y":{"field":"upper","type":"quantitative","title":"AMPA/NMDA ratio"},"text":{"field":"sig"}}}
       ]}
    ]}
   ]}
 ]}
],
"spacing":13
}
